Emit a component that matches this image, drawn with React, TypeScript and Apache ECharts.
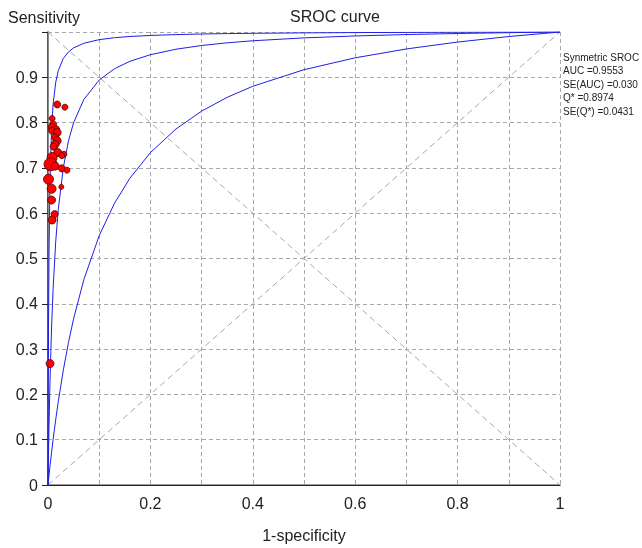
import React, { useEffect, useRef } from "react";
import * as echarts from "echarts";

const fpr = [0, 0.0005, 0.001, 0.002, 0.004, 0.007, 0.01, 0.015, 0.02, 0.03, 0.04, 0.05, 0.07, 0.1, 0.13, 0.16, 0.2, 0.25, 0.3, 0.35, 0.4, 0.5, 0.6, 0.7, 0.8, 0.9, 1];
const sensMid = [0, 0.0366, 0.0706, 0.132, 0.2336, 0.3486, 0.434, 0.5361, 0.6077, 0.7013, 0.7598, 0.7998, 0.851, 0.894, 0.919, 0.9353, 0.9499, 0.962, 0.9702, 0.9761, 0.9806, 0.987, 0.9913, 0.9944, 0.9967, 0.9985, 1];
const sensLow = [0, 0.0055, 0.0109, 0.0216, 0.0424, 0.0721, 0.1002, 0.1437, 0.1836, 0.2542, 0.3147, 0.3671, 0.4534, 0.5504, 0.6222, 0.6773, 0.7337, 0.786, 0.8253, 0.8558, 0.8802, 0.9168, 0.943, 0.9626, 0.9778, 0.99, 1];
const sensHigh = [0, 0.2074, 0.3436, 0.5118, 0.6775, 0.7867, 0.8408, 0.8884, 0.9143, 0.9418, 0.9561, 0.9649, 0.9752, 0.9831, 0.9874, 0.9901, 0.9924, 0.9943, 0.9956, 0.9965, 0.9971, 0.9981, 0.9987, 0.9991, 0.9995, 0.9998, 1];

// [1-specificity, sensitivity, weight]
const studies = [
  [0.018, 0.84, 7], [0.033, 0.834, 6], [0.008, 0.809, 6], [0.01, 0.796, 7], [0.007, 0.79, 7],
  [0.016, 0.785, 7], [0.008, 0.782, 7], [0.018, 0.778, 8], [0.014, 0.767, 7], [0.018, 0.76, 8],
  [0.014, 0.752, 8], [0.011, 0.747, 7], [0.019, 0.734, 8], [0.031, 0.73, 6], [0.008, 0.723, 10],
  [0.027, 0.727, 6], [0.005, 0.708, 13], [0.014, 0.704, 8], [0.027, 0.699, 7], [0.037, 0.695, 6],
  [0.001, 0.675, 10], [0.007, 0.654, 9], [0.026, 0.658, 5], [0.007, 0.629, 8], [0.013, 0.598, 7],
  [0.008, 0.585, 8], [0.004, 0.268, 8],
];

const diagonal = [[0, 0], [1, 1]];
const antiDiagonal = [[0, 1], [1, 0]];

const statsLines = ["Synmetric SROC", "AUC =0.9553", "SE(AUC) =0.030", "Q* =0.8974", "SE(Q*) =0.0431"];

const FONT = "'Liberation Sans', Arial, Helvetica, sans-serif";

export default function App() {
  const ref = useRef<HTMLDivElement>(null);
  useEffect(() => {
    const chart = echarts.init(ref.current!, null, { renderer: "svg" });
    const curveColor = "#1f1fe6";
    const dashGrey = "#a8a8a8";
    chart.setOption({
      animation: false,
      textStyle: { fontFamily: FONT },
      title: {
        text: "SROC curve",
        left: 330,
        top: 3,
        textAlign: "center",
        textStyle: { fontSize: 16, fontWeight: "normal", color: "#222", fontFamily: FONT },
      },
      grid: { left: 48, right: 82, top: 32, bottom: 61 },
      xAxis: [
        {
          type: "value",
          min: 0,
          max: 1,
          interval: 0.1,
          name: "1-specificity",
          nameLocation: "middle",
          nameGap: 42,
          nameTextStyle: { fontSize: 16, color: "#222", fontFamily: FONT },
          axisLine: { show: true, lineStyle: { color: "#808080", width: 1.5 } },
          axisTick: { show: false },
          axisLabel: {
            fontSize: 16,
            color: "#222",
            margin: 10,
            fontFamily: FONT,
            formatter: (v: number) => (Math.round(v * 10) % 2 === 0 ? String(Math.round(v * 10) / 10) : ""),
          },
          splitLine: { show: true, lineStyle: { color: dashGrey, type: [4, 3], width: 1 } },
        },
        {
          type: "value",
          position: "top",
          min: 0,
          max: 1,
          axisLine: { show: true, lineStyle: { color: "#222", width: 1 } },
          axisTick: { show: false },
          axisLabel: { show: false },
          splitLine: { show: false },
        },
      ],
      yAxis: [
        {
          type: "value",
          min: 0,
          max: 1,
          interval: 0.1,
          axisLine: { show: true, lineStyle: { color: "#222", width: 1.5 } },
          axisTick: { show: true, length: 6, lineStyle: { color: "#222" } },
          axisLabel: {
            fontSize: 16,
            color: "#222",
            margin: 10,
            fontFamily: FONT,
            formatter: (v: number) => (v >= 0.999 ? "" : String(Math.round(v * 10) / 10)),
          },
          splitLine: { show: true, lineStyle: { color: dashGrey, type: [4, 3], width: 1 } },
        },
        {
          type: "value",
          position: "right",
          min: 0,
          max: 1,
          axisLine: { show: true, lineStyle: { color: "#888", width: 1 } },
          axisTick: { show: false },
          axisLabel: { show: false },
          splitLine: { show: false },
        },
      ],
      graphic: [
        {
          type: "text",
          left: 8,
          top: 9,
          style: { text: "Sensitivity", fontSize: 16, fill: "#222", fontFamily: FONT },
        },
        ...statsLines.map((t, i) => ({
          type: "text",
          left: 563,
          top: 52 + i * 13.5,
          style: { text: t, fontSize: 10, fill: "#222", fontFamily: FONT },
        })),
      ],
      series: [
        {
          type: "line",
          data: diagonal,
          showSymbol: false,
          silent: true,
          lineStyle: { color: dashGrey, type: [6, 4], width: 1 },
        },
        {
          type: "line",
          data: antiDiagonal,
          showSymbol: false,
          silent: true,
          lineStyle: { color: dashGrey, type: [6, 4], width: 1 },
        },
        {
          type: "line",
          data: fpr.map((x, i) => [x, sensLow[i]]),
          showSymbol: false,
          smooth: false,
          lineStyle: { color: curveColor, width: 1 },
        },
        {
          type: "line",
          data: fpr.map((x, i) => [x, sensMid[i]]),
          showSymbol: false,
          smooth: false,
          lineStyle: { color: curveColor, width: 1 },
        },
        {
          type: "line",
          data: fpr.map((x, i) => [x, sensHigh[i]]),
          showSymbol: false,
          smooth: false,
          lineStyle: { color: curveColor, width: 1 },
        },
        {
          type: "scatter",
          data: studies,
          symbolSize: (d: number[]) => d[2],
          itemStyle: { color: "#ff0000", borderColor: "#500000", borderWidth: 0.8, opacity: 1 },
          z: 5,
        },
      ],
    });
    return () => chart.dispose();
  }, []);
  return <div ref={ref} style={{ position: "fixed", left: 0, top: 0, width: 642, height: 548 }} />;
}
